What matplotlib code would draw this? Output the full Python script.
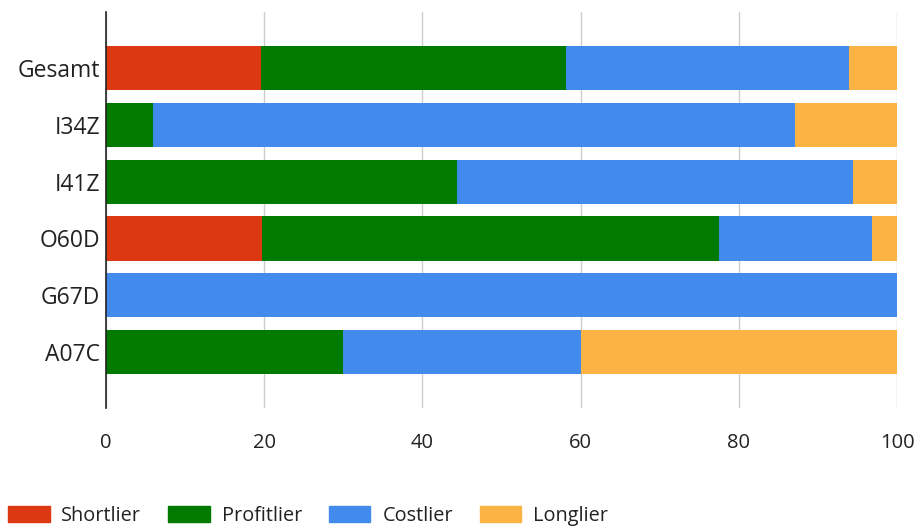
import matplotlib.pyplot as plt
import numpy as np
from matplotlib.patches import Patch

categories = ['Gesamt', 'I34Z', 'I41Z', 'O60D', 'G67D', 'A07C']
series = ['Shortlier', 'Profitlier', 'Costlier', 'Longlier']
colors = ['#dc3912', '#007a00', '#428bed', '#fbb344']

shortlier = [19.6, 0, 0, 19.7, 0, 0]
profitlier = [38.6, 6.0, 44.4, 57.8, 0, 30.0]
costlier = [35.7, 81.1, 50.0, 19.3, 100.0, 30.0]
longlier = [6.1, 12.9, 5.6, 3.2, 0, 40.0]

values = [shortlier, profitlier, costlier, longlier]

fig = plt.figure(figsize=(9.21, 5.26), dpi=100)
ax = fig.add_axes([0.115, 0.2243, 0.859, 0.7527])

y = np.arange(len(categories))
left = np.zeros(len(categories))
for name, vals, col in zip(series, values, colors):
    ax.barh(y, vals, left=left, height=0.78, color=col, label=name, zorder=2)
    left += np.array(vals)

ax.set_xlim(0, 100)
ax.set_ylim(len(categories) - 1 + 0.99, -0.99)
ax.set_yticks(y)
ax.set_yticklabels(categories, fontsize=16.5, family='Open Sans', color='#222222')
ax.set_xticks([0, 20, 40, 60, 80, 100])
ax.set_xticklabels(['0', '20', '40', '60', '80', '100'], fontsize=14.5,
                   family='Open Sans', color='#222222')
ax.tick_params(axis='both', length=0)
ax.tick_params(axis='x', pad=18)
ax.tick_params(axis='y', pad=4)
ax.grid(axis='x', color='#cccccc', linewidth=1, zorder=0)
for s in ['top', 'right', 'bottom']:
    ax.spines[s].set_visible(False)
ax.spines['left'].set_color('#222222')
ax.spines['left'].set_linewidth(1.2)
ax.spines['left'].set_zorder(3)

handles = [Patch(color=c, label=n) for n, c in zip(series, colors)]
leg = fig.legend(handles=handles, loc='lower left', bbox_to_anchor=(8 / 921, 0), ncol=4,
                 frameon=False, borderpad=0, borderaxespad=0,
                 handlelength=2.09, handleheight=0.85, handletextpad=0.6,
                 columnspacing=1.35, prop={'family': 'Open Sans', 'size': 14.3})
for t in leg.get_texts():
    t.set_color('#222222')

fig.savefig('out.png', dpi=100)
